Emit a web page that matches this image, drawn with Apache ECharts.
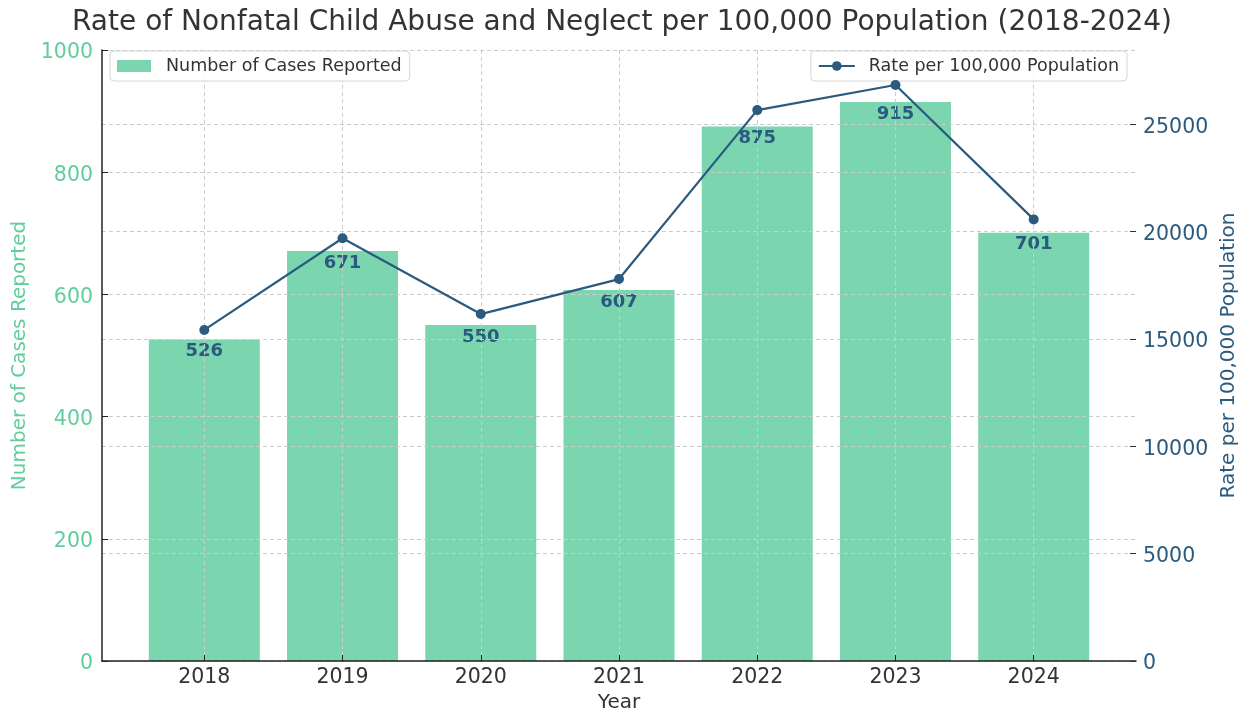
<!DOCTYPE html>
<html>
<head>
<meta charset="utf-8">
<script src="https://cdn.jsdelivr.net/npm/echarts@6/dist/echarts.min.js"></script>
<style>
  html, body { margin: 0; padding: 0; background: #ffffff; }
  #chart { width: 1244px; height: 713px; }
</style>
</head>
<body>
<div id="chart"></div>
<script>
// Reported cases and rate per 100,000 population, 2018-2024
const years = ['2018', '2019', '2020', '2021', '2022', '2023', '2024'];
const casesReported = [526, 671, 550, 607, 875, 915, 701];
const ratePer100k = [15420, 19690, 16160, 17790, 25660, 26830, 20570];
const caseTicks = [0, 200, 400, 600, 800, 1000];
const rateTicks = [0, 5000, 10000, 15000, 20000, 25000];

const FONT = 'DejaVu Sans';
const GREEN = '#7bd5ae';
const GREEN_TEXT = '#62cd9c';
const BLUE = '#2a5b7f';
const GRID_LINE = { show: true, lineStyle: { color: '#cccccc', type: [4, 3], width: 1 } };

const yearIndex = years.map((_, i) => i);
const barData = casesReported.map((v, i) => [i, v]);
const lineData = ratePer100k.map((v, i) => [i, v]);

// tick label text sits slightly below its tick, as in the classic plotting look
function tickText(color) {
  return { t: { fontFamily: FONT, fontSize: 20.5, color: color, padding: [6, 0, 0, 0] } };
}

const chart = echarts.init(document.getElementById('chart'), null, { renderer: 'canvas' });

chart.setOption({
  backgroundColor: '#ffffff',
  animation: false,
  textStyle: { fontFamily: FONT },
  title: {
    text: 'Rate of Nonfatal Child Abuse and Neglect per 100,000 Population (2018-2024)',
    left: 'center',
    top: 4,
    textStyle: { fontFamily: FONT, fontSize: 28, fontWeight: 'normal', color: '#333333' }
  },
  grid: { left: 102, right: 108, top: 50, bottom: 52, containLabel: false, outerBoundsMode: 'none' },
  legend: [
    {
      data: ['Number of Cases Reported'],
      left: 110, top: 51,
      padding: [6, 8, 6, 7],
      icon: 'rect', itemWidth: 34, itemHeight: 12,
      borderColor: '#d6d6d6', borderWidth: 1, borderRadius: 4,
      backgroundColor: 'rgba(255,255,255,0.85)',
      textStyle: { fontFamily: FONT, fontSize: 17.5, color: '#333333', padding: [0, 0, 0, 10] }
    },
    {
      data: ['Rate per 100,000 Population'],
      right: 117, top: 51,
      padding: [6, 8, 6, 7],
      itemWidth: 36, itemHeight: 12,
      borderColor: '#d6d6d6', borderWidth: 1, borderRadius: 4,
      backgroundColor: 'rgba(255,255,255,0.85)',
      textStyle: { fontFamily: FONT, fontSize: 17.5, color: '#333333', padding: [0, 0, 0, 9] }
    }
  ],
  xAxis: {
    type: 'value',
    min: -0.74,
    max: 6.74,
    z: 3,
    name: 'Year',
    nameLocation: 'middle',
    nameGap: 28,
    nameTextStyle: { fontFamily: FONT, fontSize: 20, color: '#333333' },
    axisLine: { show: true, onZero: false, lineStyle: { color: '#222222', width: 1.5 } },
    axisTick: { show: true, inside: true, length: 6, customValues: yearIndex, lineStyle: { color: '#222222' } },
    axisLabel: {
      customValues: yearIndex,
      formatter: v => years[Math.round(v)],
      fontFamily: FONT, fontSize: 20.5, color: '#333333', margin: 6
    },
    splitLine: GRID_LINE
  },
  yAxis: [
    {
      type: 'value',
      min: 0, max: 1000, interval: 200,
      position: 'left',
      z: 3,
      name: 'Number of Cases Reported',
      nameLocation: 'middle',
      nameGap: 65,
      nameTextStyle: { fontFamily: FONT, fontSize: 20, color: GREEN_TEXT },
      axisLine: { show: true, onZero: false, lineStyle: { color: '#222222', width: 1.5 } },
      axisTick: { show: true, inside: true, length: 6, lineStyle: { color: '#222222' } },
      axisLabel: { margin: 9, customValues: caseTicks,
        formatter: v => '{t|' + v + '}', rich: tickText(GREEN_TEXT) },
      splitLine: GRID_LINE
    },
    {
      type: 'value',
      min: 0, max: 28460,
      position: 'right',
      z: 3,
      name: 'Rate per 100,000 Population',
      nameLocation: 'middle',
      nameGap: 72,
      nameTextStyle: { fontFamily: FONT, fontSize: 20, color: BLUE },
      axisLine: { show: false, onZero: false },
      axisTick: { show: true, inside: true, length: 6, customValues: rateTicks, lineStyle: { color: '#333333' } },
      axisLabel: { margin: 7, customValues: rateTicks,
        formatter: v => '{t|' + v + '}', rich: tickText(BLUE) },
      splitLine: GRID_LINE
    }
  ],
  series: [
    {
      name: 'Number of Cases Reported',
      type: 'bar',
      xAxisIndex: 0,
      yAxisIndex: 0,
      data: barData,
      barWidth: 111,
      z: 2,
      itemStyle: { color: GREEN },
      label: {
        show: true,
        position: 'insideTop',
        distance: 3,
        formatter: p => p.value[1],
        fontFamily: FONT, fontSize: 18, fontWeight: 'bold', color: BLUE
      }
    },
    {
      name: 'Rate per 100,000 Population',
      type: 'line',
      xAxisIndex: 0,
      yAxisIndex: 1,
      data: lineData,
      z: 10,
      symbol: 'circle',
      symbolSize: 10,
      lineStyle: { color: BLUE, width: 2.2 },
      itemStyle: { color: BLUE }
    }
  ]
});
</script>
</body>
</html>
